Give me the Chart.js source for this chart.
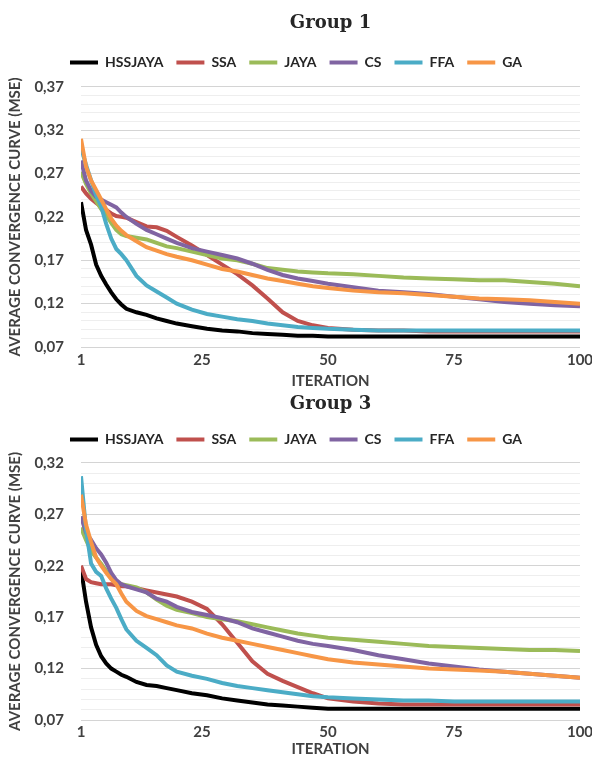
<!DOCTYPE html>
<html>
<head>
<meta charset="utf-8">
<script src="https://cdn.jsdelivr.net/npm/chart.js@4"></script>
<style>
  body { margin: 0; background: #fff; overflow: hidden; }
  .box { position: absolute; left: 0; width: 592px; }
  #g1 { top: 0; height: 390px; }
  #g3 { top: 382px; height: 376px; }
</style>
</head>
<body>
<div class="box" id="g1"><canvas id="chart1"></canvas></div>
<div class="box" id="g3"><canvas id="chart3"></canvas></div>
<script>
// sampled iterations (x values)
const iters = [1,2,3,4,5,6,7,8,9,10,12,14,16,18,20,23,26,29,32,35,38,41,44,47,50,55,60,65,70,75,80,85,90,95,100];
const xTicks = [1, 25, 50, 75, 100];
const names = ["HSSJAYA", "SSA", "JAYA", "CS", "FFA", "GA"];
const colors = ["#000000", "#c0504d", "#9bbb59", "#8064a2", "#4bacc6", "#f79646"];

// Group 1
const g1Hss  = [0.237,0.205,0.188,0.165,0.152,0.142,0.133,0.125,0.119,0.114,0.110,0.107,0.103,0.100,0.097,0.094,0.091,0.089,0.088,0.086,0.085,0.084,0.083,0.083,0.082,0.082,0.082,0.082,0.082,0.082,0.082,0.082,0.082,0.082,0.082];
const g1Ssa  = [0.255,0.247,0.241,0.236,0.232,0.228,0.224,0.221,0.220,0.219,0.214,0.209,0.208,0.204,0.197,0.187,0.176,0.165,0.154,0.141,0.126,0.110,0.100,0.095,0.092,0.090,0.089,0.089,0.088,0.088,0.088,0.088,0.088,0.088,0.088];
const g1Jaya = [0.272,0.258,0.247,0.238,0.229,0.222,0.213,0.205,0.200,0.198,0.196,0.194,0.190,0.186,0.184,0.180,0.176,0.172,0.170,0.166,0.161,0.159,0.157,0.156,0.155,0.154,0.152,0.150,0.149,0.148,0.147,0.147,0.145,0.143,0.140];
const g1Cs   = [0.285,0.262,0.250,0.243,0.240,0.237,0.234,0.231,0.225,0.220,0.212,0.205,0.200,0.195,0.190,0.184,0.180,0.176,0.172,0.166,0.159,0.153,0.149,0.146,0.143,0.139,0.135,0.133,0.131,0.128,0.125,0.122,0.120,0.118,0.117];
const g1Ffa  = [0.300,0.280,0.262,0.245,0.232,0.212,0.195,0.183,0.177,0.170,0.152,0.141,0.134,0.127,0.120,0.113,0.108,0.105,0.102,0.100,0.097,0.095,0.093,0.092,0.091,0.090,0.089,0.089,0.089,0.089,0.089,0.089,0.089,0.089,0.089];
const g1Ga   = [0.310,0.278,0.262,0.251,0.240,0.229,0.218,0.210,0.204,0.199,0.192,0.185,0.181,0.177,0.174,0.170,0.165,0.160,0.157,0.153,0.149,0.146,0.143,0.140,0.138,0.135,0.133,0.132,0.130,0.128,0.126,0.125,0.124,0.122,0.120];

// Group 3
const g3Hss  = [0.217,0.185,0.160,0.143,0.132,0.125,0.120,0.117,0.114,0.112,0.107,0.104,0.103,0.101,0.099,0.096,0.094,0.091,0.089,0.087,0.085,0.084,0.083,0.082,0.081,0.081,0.081,0.081,0.081,0.081,0.081,0.081,0.081,0.081,0.081];
const g3Ssa  = [0.220,0.207,0.204,0.203,0.202,0.202,0.202,0.201,0.200,0.200,0.198,0.196,0.194,0.192,0.190,0.185,0.178,0.163,0.145,0.127,0.115,0.108,0.102,0.096,0.091,0.088,0.086,0.085,0.085,0.085,0.085,0.085,0.085,0.085,0.085];
const g3Jaya = [0.257,0.245,0.234,0.228,0.222,0.215,0.208,0.204,0.202,0.201,0.199,0.194,0.187,0.181,0.177,0.174,0.170,0.168,0.166,0.163,0.160,0.157,0.154,0.152,0.150,0.148,0.146,0.144,0.142,0.141,0.140,0.139,0.138,0.138,0.137];
const g3Cs   = [0.268,0.252,0.245,0.237,0.231,0.223,0.213,0.206,0.202,0.200,0.197,0.194,0.188,0.185,0.180,0.175,0.172,0.169,0.165,0.159,0.155,0.151,0.147,0.144,0.142,0.138,0.133,0.129,0.125,0.122,0.119,0.117,0.115,0.113,0.111];
const g3Ffa  = [0.307,0.255,0.222,0.214,0.210,0.198,0.188,0.179,0.168,0.158,0.147,0.140,0.133,0.123,0.117,0.113,0.110,0.106,0.103,0.101,0.099,0.097,0.095,0.093,0.092,0.091,0.090,0.089,0.089,0.088,0.088,0.088,0.088,0.088,0.088];
const g3Ga   = [0.289,0.260,0.243,0.228,0.220,0.213,0.207,0.202,0.193,0.185,0.176,0.171,0.168,0.165,0.162,0.159,0.154,0.150,0.147,0.144,0.141,0.138,0.135,0.132,0.129,0.126,0.124,0.122,0.120,0.119,0.118,0.117,0.115,0.113,0.111];

const txt = "#404040";
const lblFont = { family: "Lato", weight: "bold", size: 15 };
const legFont = { family: "Lato", weight: "bold", size: 14 };

function isMajor(v) {
  const n = Math.round(v * 100) - 7;
  return n % 5 === 0;
}

// lay: title paddings, gap under legend, x-axis paddings
function makeChart(id, title, series, yMax, lay) {
  const datasets = series.map((vals, i) => ({
    label: names[i],
    data: iters.map((it, k) => ({ x: it, y: vals[k] })),
    borderColor: colors[i],
    backgroundColor: colors[i],
    borderWidth: 4,
    pointRadius: 0,
    tension: 0,
    order: -i   // later series on top, like the original
  }));
  return new Chart(document.getElementById(id), {
    type: "line",
    data: { datasets: datasets },
    options: {
      responsive: true,
      maintainAspectRatio: false,
      animation: false,
      layout: { padding: { left: 0, right: 0, top: 0, bottom: 0 } },
      plugins: {
        title: {
          display: true,
          text: title,
          fullSize: false,   // centred over the plot, as in the original
          color: "#262626",
          font: { family: "DejaVu Serif", weight: "bold", size: 18 },
          padding: { top: lay.titleTop, bottom: lay.titleBottom }
        },
        // empty spacer between legend and plot
        subtitle: {
          display: true,
          text: "",
          weight: 500,
          font: { size: 1 },
          padding: { top: lay.gap, bottom: 0 }
        },
        legend: {
          position: "top",
          labels: {
            usePointStyle: true,
            pointStyle: "line",
            pointStyleWidth: 28,
            color: "#262626",
            font: legFont,
            padding: 13,
            sort: (a, b) => a.datasetIndex - b.datasetIndex
          }
        },
        tooltip: { enabled: false }
      },
      scales: {
        x: {
          type: "linear",
          min: 1,
          max: 100,
          afterBuildTicks: axis => { axis.ticks = xTicks.map(v => ({ value: v })); },
          afterFit: axis => { axis.paddingRight = 12; },
          grid: { display: false, drawTicks: false },
          border: { display: false },
          ticks: { color: txt, font: lblFont, padding: lay.tickPad, maxRotation: 0 },
          title: { display: true, text: "ITERATION", color: txt, font: lblFont, padding: { top: lay.xTitlePad, bottom: 0 } }
        },
        y: {
          min: 0.07,
          max: yMax,
          afterFit: axis => { axis.width = 81; },
          border: { display: false },
          grid: {
            drawTicks: false,
            color: c => isMajor(c.tick.value) ? "#d4d4d4" : "#eeeeee"
          },
          ticks: {
            stepSize: 0.01,
            autoSkip: false,
            color: txt,
            font: lblFont,
            padding: 17,
            callback: v => isMajor(v) ? v.toFixed(2).replace(".", ",") : ""
          },
          title: {
            display: true,
            text: "AVERAGE CONVERGENCE CURVE (MSE)",
            color: txt,
            font: lblFont,
            padding: { top: 6, bottom: 0 }
          }
        }
      }
    }
  });
}

makeChart("chart1", "Group 1", [g1Hss, g1Ssa, g1Jaya, g1Cs, g1Ffa, g1Ga], 0.37,
  { titleTop: 13, titleBottom: 8, gap: 6, tickPad: 4, xTitlePad: -1 });
makeChart("chart3", "Group 3", [g3Hss, g3Ssa, g3Jaya, g3Cs, g3Ffa, g3Ga], 0.32,
  { titleTop: 12, titleBottom: 4, gap: 5, tickPad: 3, xTitlePad: -4 });
</script>
</body>
</html>
